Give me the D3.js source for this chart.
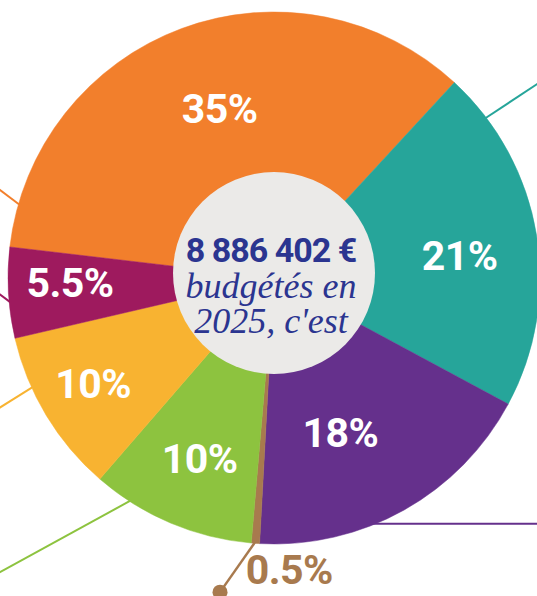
<!DOCTYPE html>
<html>
<head>
<meta charset="utf-8">
<script src="https://cdn.jsdelivr.net/npm/d3@7"></script>
<style>
  body { margin: 0; background: #fff; }
  svg { display: block; }
</style>
</head>
<body>
<svg id="chart"></svg>
<script>
// chart values
var shares = [35, 21, 18, 0.5, 10, 10, 5.5];
var shareLabels = ["35%", "21%", "18%", "0.5%", "10%", "10%", "5.5%"];
var sliceColors = ["#f27f2c", "#26a59a", "#65308c", "#a87a4e", "#8dc33f", "#f8b331", "#9e1a5e"];
var totalLabel = "8 886 402 €";
var captionLines = ["budgétés en", "2025, c'est"];

var width = 537,
    height = 596;

var cx = 274, cy = 278,
    outerR = 266,
    innerR = 101;

var rad = Math.PI / 180;
var start = -83.3 * rad;

var svg = d3.select("#chart")
    .attr("width", width)
    .attr("height", height);

var pie = d3.pie()
    .sort(null)
    .value(function(d) { return d; })
    .startAngle(start)
    .endAngle(start + 2 * Math.PI);

var arcs = pie(shares);

var arc = d3.arc()
    .innerRadius(0)
    .outerRadius(outerR);

// point on a circle, angle in degrees clockwise from 12 o'clock
function polar(r, deg) {
  var a = deg * rad;
  return [cx + r * Math.sin(a), cy - r * Math.cos(a)];
}

// leader lines towards the rest of the infographic: rim angle, direction, length
var leaders = [
  { i: 0, rim: 286, dir: 216.9, len: 40 },
  { i: 1, rim: 52.9, dir: -33.4, len: 90 },
  { i: 2, rim: 158.6, dir: 0, len: 200 },
  { i: 4, rim: 212.7, dir: 151.3, len: 170 },
  { i: 5, rim: 245.7, dir: 148, len: 60 },
  { i: 6, rim: 264.6, dir: 216.9, len: 20 }
];

var gLines = svg.append("g");
leaders.forEach(function(l) {
  var p = polar(outerR - 2, l.rim);
  gLines.append("line")
    .attr("x1", p[0]).attr("y1", p[1])
    .attr("x2", p[0] + l.len * Math.cos(l.dir * rad))
    .attr("y2", p[1] + l.len * Math.sin(l.dir * rad))
    .attr("stroke", sliceColors[l.i])
    .attr("stroke-width", 2);
});

// brown small slice: line with a dot
var b = arcs[3];
var bMid = (b.startAngle + b.endAngle) / 2 / rad;
var bp = polar(outerR - 2, bMid);
var bEnd = [bp[0] + 62 * Math.cos(125 * rad), bp[1] + 62 * Math.sin(125 * rad)];
gLines.append("line")
  .attr("x1", bp[0]).attr("y1", bp[1])
  .attr("x2", bEnd[0]).attr("y2", bEnd[1])
  .attr("stroke", sliceColors[3])
  .attr("stroke-width", 2.5);
gLines.append("circle")
  .attr("cx", bEnd[0]).attr("cy", bEnd[1])
  .attr("r", 7.5)
  .attr("fill", sliceColors[3]);

// slices
var g = svg.append("g")
    .attr("transform", "translate(" + cx + "," + cy + ")");

g.selectAll("path")
  .data(arcs)
  .enter()
  .append("path")
  .attr("d", arc)
  .attr("fill", function(d, i) { return sliceColors[i]; })
  .attr("stroke", function(d, i) { return sliceColors[i]; })
  .attr("stroke-width", 0.5);

// labels: radius and angle nudge per slice
var labelPos = [
  { r: 178, nudge: 2.5 },
  { r: 187, nudge: 2.5 },
  { r: 168, nudge: 6 },
  { r: 292, nudge: -7 },
  { r: 195, nudge: -0.5 },
  { r: 209, nudge: 1 },
  { r: 204, nudge: 2 }
];

svg.append("g").selectAll("text")
  .data(arcs)
  .enter()
  .append("text")
  .attr("x", function(d, i) {
    var mid = (d.startAngle + d.endAngle) / 2 / rad + labelPos[i].nudge;
    return polar(labelPos[i].r, mid)[0];
  })
  .attr("y", function(d, i) {
    var mid = (d.startAngle + d.endAngle) / 2 / rad + labelPos[i].nudge;
    return polar(labelPos[i].r, mid)[1];
  })
  .attr("dy", "0.36em")
  .attr("text-anchor", "middle")
  .attr("font-family", "Roboto, sans-serif")
  .attr("font-weight", "bold")
  .attr("font-size", 41)
  .attr("letter-spacing", -0.5)
  .attr("fill", function(d, i) { return i === 3 ? sliceColors[3] : "#fff"; })
  .text(function(d, i) { return shareLabels[i]; });

// centre disc
svg.append("circle")
  .attr("cx", cx)
  .attr("cy", cy - 5)
  .attr("r", innerR)
  .attr("fill", "#ebeae8");

svg.append("text")
  .attr("x", cx - 3)
  .attr("y", 262)
  .attr("text-anchor", "middle")
  .attr("font-family", "Roboto, sans-serif")
  .attr("font-weight", "bold")
  .attr("font-size", 34)
  .attr("letter-spacing", -1)
  .attr("fill", "#2b3590")
  .text(totalLabel);

svg.append("g").selectAll("text")
  .data(captionLines)
  .enter()
  .append("text")
  .attr("x", cx - 3)
  .attr("y", function(d, i) { return 298 + i * 35; })
  .attr("text-anchor", "middle")
  .attr("font-family", "'Liberation Serif', serif")
  .attr("font-style", "italic")
  .attr("font-size", 36)
  .attr("fill", "#2b3590")
  .text(function(d) { return d; });
</script>
</body>
</html>
